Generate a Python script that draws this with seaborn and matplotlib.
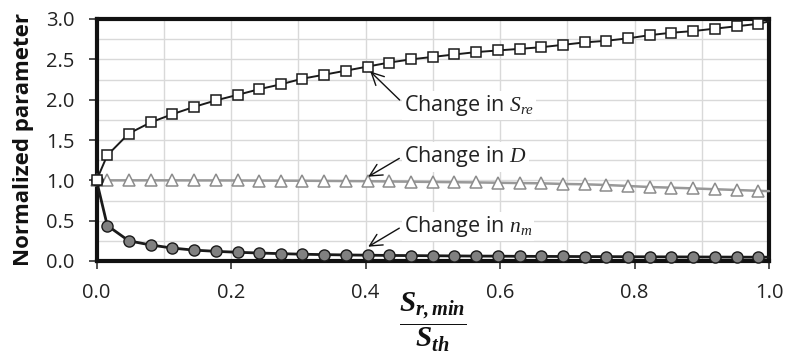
import numpy as np
import pandas as pd
import matplotlib
matplotlib.use("Agg")
import matplotlib.pyplot as plt
import seaborn as sns

# ---- data ----
x_vals = [0.0, 0.016, 0.048, 0.081, 0.113, 0.145, 0.177, 0.210, 0.242, 0.274,
          0.306, 0.339, 0.371, 0.403, 0.435, 0.468, 0.500, 0.532, 0.565, 0.597,
          0.629, 0.661, 0.694, 0.726, 0.758, 0.790, 0.823, 0.855, 0.887, 0.919,
          0.952, 0.984, 1.0]
s_re = [1.00, 1.31, 1.58, 1.72, 1.82, 1.91, 1.99, 2.06, 2.13, 2.19,
        2.26, 2.31, 2.36, 2.41, 2.46, 2.50, 2.53, 2.56, 2.59, 2.61,
        2.63, 2.65, 2.68, 2.71, 2.73, 2.76, 2.80, 2.83, 2.85, 2.88,
        2.91, 2.94, 2.97]
d_vals = [1.000, 1.000, 1.000, 1.000, 1.000, 0.999, 0.999, 0.998, 0.997, 0.996,
          0.995, 0.993, 0.991, 0.989, 0.986, 0.983, 0.980, 0.977, 0.974, 0.970,
          0.966, 0.963, 0.955, 0.951, 0.942, 0.930, 0.917, 0.909, 0.900, 0.890,
          0.880, 0.870, 0.866]
n_m = [1.0, 0.44, 0.25, 0.198, 0.16, 0.135, 0.12, 0.108, 0.099, 0.091,
       0.084, 0.079, 0.075, 0.072, 0.069, 0.067, 0.065, 0.063, 0.061, 0.060,
       0.058, 0.057, 0.056, 0.055, 0.054, 0.053, 0.052, 0.051, 0.050, 0.049,
       0.048, 0.047, 0.047]
x_ticks = [0.0, 0.2, 0.4, 0.6, 0.8, 1.0]
y_ticks = [0.0, 0.5, 1.0, 1.5, 2.0, 2.5, 3.0]
labels = ["Change in $S_{re}$", "Change in $D$", "Change in $n_m$"]

sns.set_style("white")
plt.rcParams["font.family"] = ["Open Sans", "DejaVu Sans"]
plt.rcParams["mathtext.fontset"] = "custom"
plt.rcParams["mathtext.rm"] = "Liberation Serif"
plt.rcParams["mathtext.it"] = "Liberation Serif:italic"
plt.rcParams["mathtext.bf"] = "Liberation Serif:italic:bold"

df = pd.DataFrame({"x": x_vals, "Sre": s_re, "D": d_vals, "nm": n_m})

fig = plt.figure(figsize=(7.87, 3.56), dpi=100)
ax = fig.add_axes([96.5 / 787, 1 - 261 / 356, 672.5 / 787, 242 / 356])

mk = list(range(len(x_vals) - 1))
sns.lineplot(data=df, x="x", y="D", ax=ax, color="#999999", lw=1.8,
             marker="^", markersize=8, markerfacecolor="white",
             markeredgecolor="#8c8c8c", markeredgewidth=1.1, markevery=mk,
             clip_on=False, zorder=5, sort=False)
sns.lineplot(data=df, x="x", y="nm", ax=ax, color="#1a1a1a", lw=2.0,
             marker="o", markersize=8, markerfacecolor="#808080",
             markeredgecolor="#1a1a1a", markeredgewidth=1.0, markevery=mk,
             clip_on=False, zorder=6, sort=False)
sns.lineplot(data=df, x="x", y="Sre", ax=ax, color="#1a1a1a", lw=1.4,
             marker="s", markersize=6.5, markerfacecolor="white",
             markeredgecolor="#1a1a1a", markeredgewidth=1.1, markevery=mk,
             clip_on=False, zorder=7, sort=False)

ax.set_xlim(0, 1)
ax.set_ylim(0, 3)
ax.set_xticks(x_ticks)
ax.set_xticklabels([f"{v:.1f}" for v in x_ticks])
ax.set_yticks(y_ticks)
ax.set_yticklabels([f"{v:.1f}" for v in y_ticks])
ax.set_xticks(np.arange(0, 1.01, 0.1), minor=True)
ax.set_yticks(np.arange(0, 3.01, 0.25), minor=True)
ax.grid(True, which="both", color="#d9d9d9", lw=1.0, zorder=0)
ax.set_axisbelow(True)
ax.tick_params(which="minor", length=0)
ax.tick_params(axis="y", which="major", length=6, width=1.2, color="#333333",
               pad=10, labelsize=14.5, labelcolor="#222222", left=True, direction="out")
ax.tick_params(axis="x", which="major", length=6, width=1.2, color="#333333",
               pad=10, labelsize=14.5, labelcolor="#222222", bottom=True, direction="out")

for s in ax.spines.values():
    s.set_visible(True)
    s.set_color("#111111")
    s.set_linewidth(3.0)

ax.set_ylabel("Normalized parameter", fontsize=16, fontweight="bold", color="#111111")
ax.yaxis.set_label_coords(-0.093, 0.5)
ax.set_xlabel(r"$\mathbf{\dfrac{S_{r,min}}{S_{th}}}$", fontsize=21, color="#111111")
ax.xaxis.set_label_coords(0.5, -0.125)

ann_xy = [(0.407, 2.35), (0.404, 1.045), (0.404, 0.177)]
ann_text = [(0.457, 1.93), (0.457, 1.29), (0.457, 0.425)]
for lab, xy, xt in zip(labels, ann_xy, ann_text):
    ax.annotate(lab, xy=xy, xytext=xt, textcoords="data", ha="left", va="center",
                fontsize=15.5, color="#222222", zorder=8,
                bbox=dict(facecolor="white", edgecolor="none", pad=1.5),
                arrowprops=dict(arrowstyle="->", color="#111111", lw=1.0,
                                mutation_scale=22, relpos=(0, 0.55),
                                shrinkA=2, shrinkB=0))

fig.savefig("out.png", dpi=100)
